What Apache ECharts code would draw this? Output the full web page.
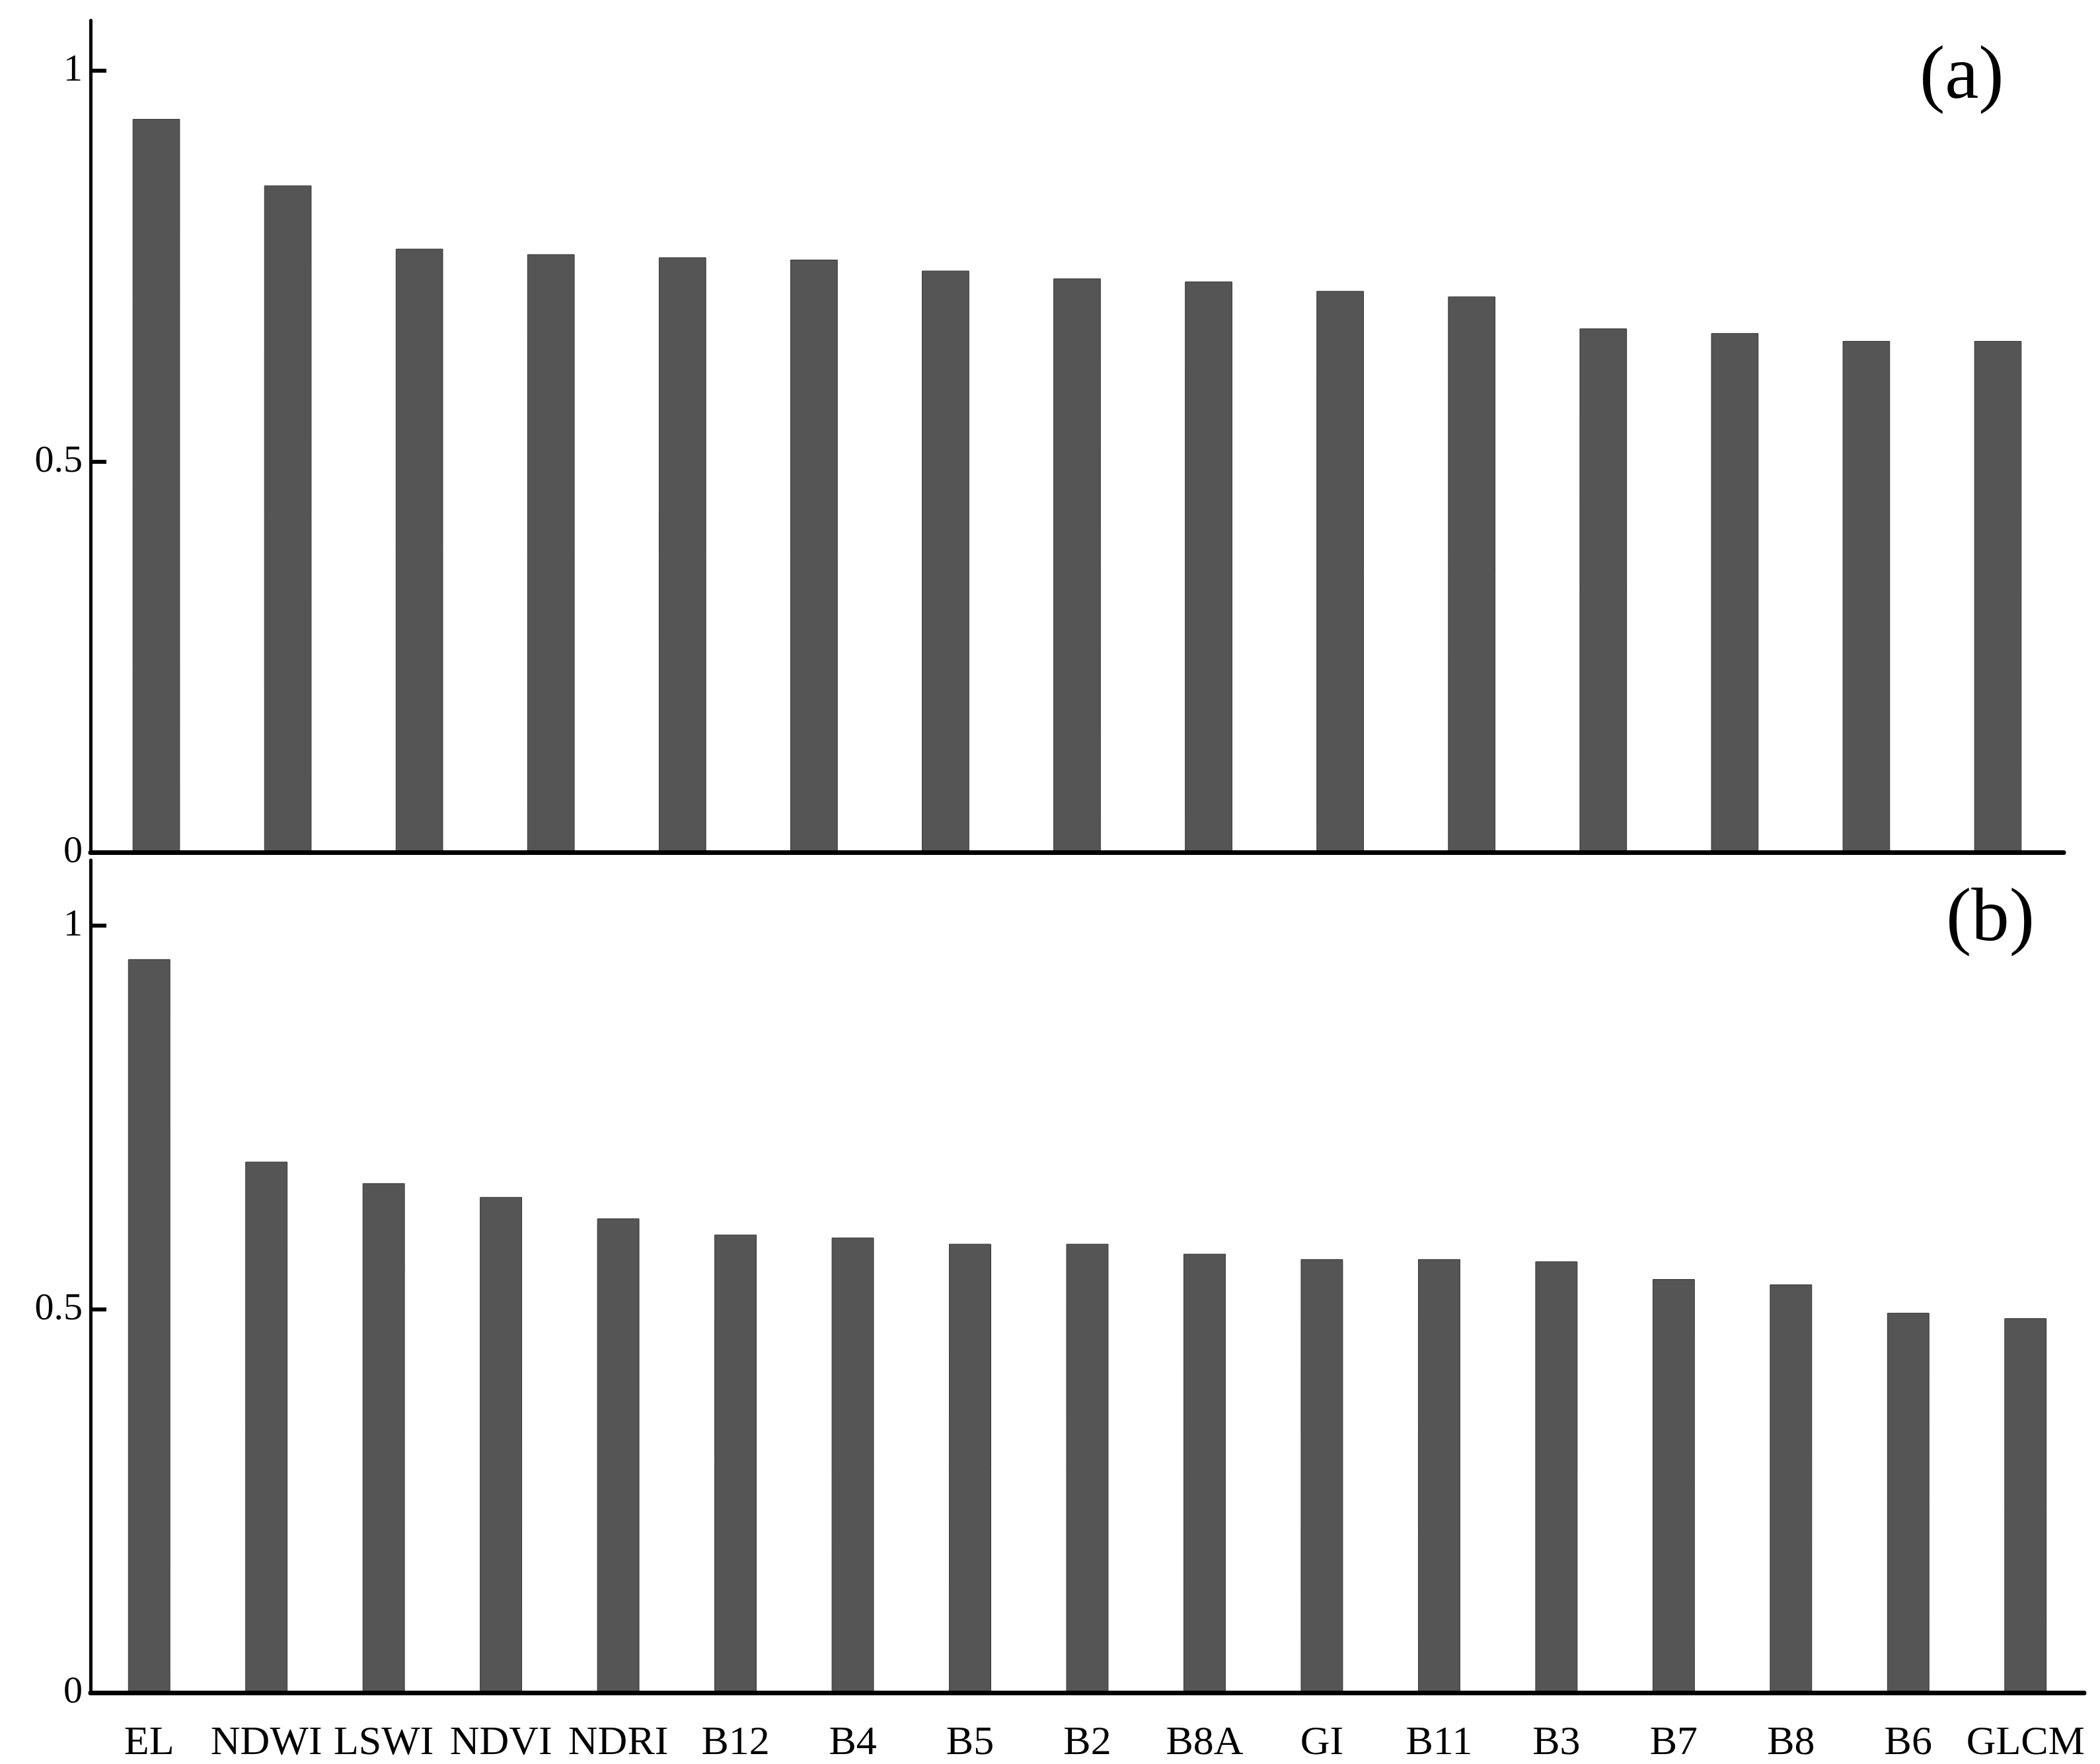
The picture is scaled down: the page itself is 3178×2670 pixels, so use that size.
<!DOCTYPE html>
<html>
<head>
<meta charset="utf-8">
<script src="https://cdn.jsdelivr.net/npm/echarts@6/dist/echarts.min.js"></script>
<style>html,body{margin:0;padding:0;background:#fff}#main{width:3178px;height:2670px}</style>
</head>
<body>
<div id="main"></div>
<script>
var topCats = ['EL', 'NDWI', 'LSWI', 'NDVI', 'NDRI', 'B12', 'B4', 'B5', 'B2', 'B8A', 'GI', 'B11', 'B3', 'B7', 'B8'];
var topValues = [0.938, 0.853, 0.772, 0.765, 0.761, 0.758, 0.744, 0.734, 0.730, 0.718, 0.711, 0.670, 0.664, 0.654, 0.654];
var bottomCats = ['EL', 'NDWI', 'LSWI', 'NDVI', 'NDRI', 'B12', 'B4', 'B5', 'B2', 'B8A', 'GI', 'B11', 'B3', 'B7', 'B8', 'B6', 'GLCM'];
var bottomValues = [0.956, 0.692, 0.664, 0.646, 0.618, 0.597, 0.593, 0.585, 0.585, 0.572, 0.565, 0.565, 0.562, 0.539, 0.532, 0.495, 0.488];
var yTicks = [0, 0.5, 1];

var chart = echarts.init(document.getElementById('main'));
var font = 'Liberation Serif';

function xAxis(idx, cats, showLabels) {
    return {
        type: 'category', gridIndex: idx, data: cats, z: 10,
        axisLine: { lineStyle: { color: '#000', width: 7 } },
        axisTick: { alignWithLabel: true, inside: true, length: 30, lineStyle: { color: '#000', width: 6 } },
        axisLabel: { show: showLabels, interval: 0, margin: 46, fontFamily: font, fontSize: 62, color: '#000' }
    };
}
function yAxis(idx, max) {
    return {
        type: 'value', gridIndex: idx, min: 0, max: max, z: 10,
        splitLine: { show: false },
        axisLine: { show: true, lineStyle: { color: '#000', width: 5 } },
        axisTick: { show: true, inside: true, length: 24, customValues: yTicks, lineStyle: { color: '#000', width: 6 } },
        axisLabel: { customValues: yTicks, margin: 12, fontFamily: font, fontSize: 58, color: '#000' }
    };
}
var barStyle = { color: '#555555', borderColor: '#333', borderWidth: 1 };

chart.setOption({
    animation: false,
    grid: [
        { left: 137, width: 2986, top: 31, height: 1259 },
        { left: 137, width: 3017, top: 1302, height: 1262 }
    ],
    xAxis: [xAxis(0, topCats, false), xAxis(1, bottomCats, true)],
    yAxis: [yAxis(0, 1.064), yAxis(1, 1.085)],
    graphic: [
        { type: 'text', left: 2905, top: 60, style: { text: '(a)', font: '115px "Liberation Serif"', fill: '#000' } },
        { type: 'text', left: 2945, top: 1335, style: { text: '(b)', font: '115px "Liberation Serif"', fill: '#000' } }
    ],
    series: [
        { type: 'bar', xAxisIndex: 0, yAxisIndex: 0, data: topValues, barWidth: '36%', itemStyle: barStyle },
        { type: 'bar', xAxisIndex: 1, yAxisIndex: 1, data: bottomValues, barWidth: '36%', itemStyle: barStyle }
    ]
});
</script>
</body>
</html>
